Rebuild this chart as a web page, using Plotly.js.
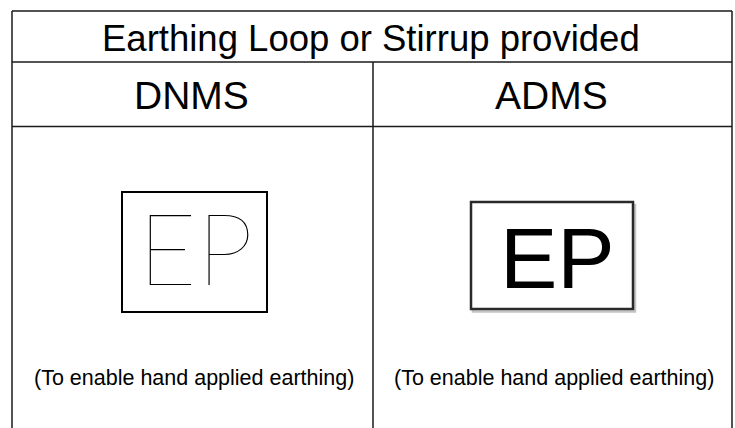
<!DOCTYPE html>
<html>
<head>
<meta charset="utf-8">
<script src="https://cdn.plot.ly/plotly-3.0.1.min.js"></script>
<style>html,body{margin:0;padding:0;background:#fff;}#chart{width:735px;height:428px;}</style>
</head>
<body>
<div id="chart"></div>
<script>
// ---- content ----
const tableTitle = "Earthing Loop or Stirrup provided";
const columnHeaders = ["DNMS", "ADMS"];
const symbolLabels = ["EP", "EP"];
const captions = ["(To enable hand applied earthing)", "(To enable hand applied earthing)"];

// ---- layout geometry (pixels in a 735x428 canvas) ----
const W = 735, H = 428;
const left = 12, right = 732, mid = 373;
const rowY = [11, 62, 126.5];
const colCenters = [192.5, 552.5];

const lineStyle = {color: "#1a1a1a", width: 1.5};
const shapes = [];
rowY.forEach(function (y) {
  shapes.push({type: "line", xref: "x", yref: "y", x0: left, x1: right, y0: y, y1: y, line: lineStyle});
});
shapes.push({type: "line", xref: "x", yref: "y", x0: left, x1: left, y0: rowY[0], y1: H, line: lineStyle});
shapes.push({type: "line", xref: "x", yref: "y", x0: right, x1: right, y0: rowY[0], y1: H, line: lineStyle});
shapes.push({type: "line", xref: "x", yref: "y", x0: mid, x1: mid, y0: rowY[1], y1: H, line: lineStyle});

// DNMS frame
shapes.push({type: "rect", xref: "x", yref: "y", x0: 122, x1: 267, y0: 192, y1: 312,
  line: {color: "#000", width: 2}, fillcolor: "rgba(0,0,0,0)"});
// ADMS frame shadow
shapes.push({type: "rect", xref: "x", yref: "y", x0: 473, x1: 635, y0: 205, y1: 311.5,
  line: {color: "#c4c4c4", width: 2.5}, fillcolor: "rgba(0,0,0,0)"});
// ADMS frame
shapes.push({type: "rect", xref: "x", yref: "y", x0: 471, x1: 633, y0: 202, y1: 309,
  line: {color: "#2a2a2a", width: 2.5}, fillcolor: "#ffffff"});

const annotations = [];
annotations.push({x: (left + right) / 2 - 1, y: 38, xref: "x", yref: "y", text: tableTitle, showarrow: false,
  font: {family: "Liberation Sans, Arial, sans-serif", size: 36.5, color: "#000"}, xanchor: "center", yanchor: "middle"});
columnHeaders.forEach(function (h, i) {
  annotations.push({x: colCenters[i] - 1, y: 95, xref: "x", yref: "y", text: h, showarrow: false,
    font: {family: "Liberation Sans, Arial, sans-serif", size: 39, color: "#000"}, xanchor: "center", yanchor: "middle"});
});
// symbol text
annotations.push({x: 195, y: 246, xref: "x", yref: "y", text: symbolLabels[0], showarrow: false,
  font: {family: "Lato, sans-serif", size: 101, weight: 200, color: "#000"}, xanchor: "center", yanchor: "middle"});
annotations.push({x: 557, y: 258, xref: "x", yref: "y", text: symbolLabels[1], showarrow: false,
  font: {family: "Liberation Sans, Arial, sans-serif", size: 86, color: "#000"}, xanchor: "center", yanchor: "middle"});
captions.forEach(function (c, i) {
  annotations.push({x: colCenters[i] + 1, y: 378, xref: "x", yref: "y", text: c, showarrow: false,
    font: {family: "Liberation Sans, Arial, sans-serif", size: 21.5, color: "#000"}, xanchor: "center", yanchor: "middle"});
});

const data = [{x: [0, W], y: [0, H], type: "scatter", mode: "markers", marker: {opacity: 0}, hoverinfo: "skip", showlegend: false}];

const layout = {
  width: W, height: H,
  margin: {l: 0, r: 0, t: 0, b: 0, pad: 0},
  paper_bgcolor: "#fff", plot_bgcolor: "#fff",
  xaxis: {range: [0, W], visible: false, fixedrange: true},
  yaxis: {range: [H, 0], visible: false, fixedrange: true},
  shapes: shapes,
  annotations: annotations,
  showlegend: false
};

Plotly.newPlot("chart", data, layout, {staticPlot: true, displayModeBar: false});
</script>
</body>
</html>
